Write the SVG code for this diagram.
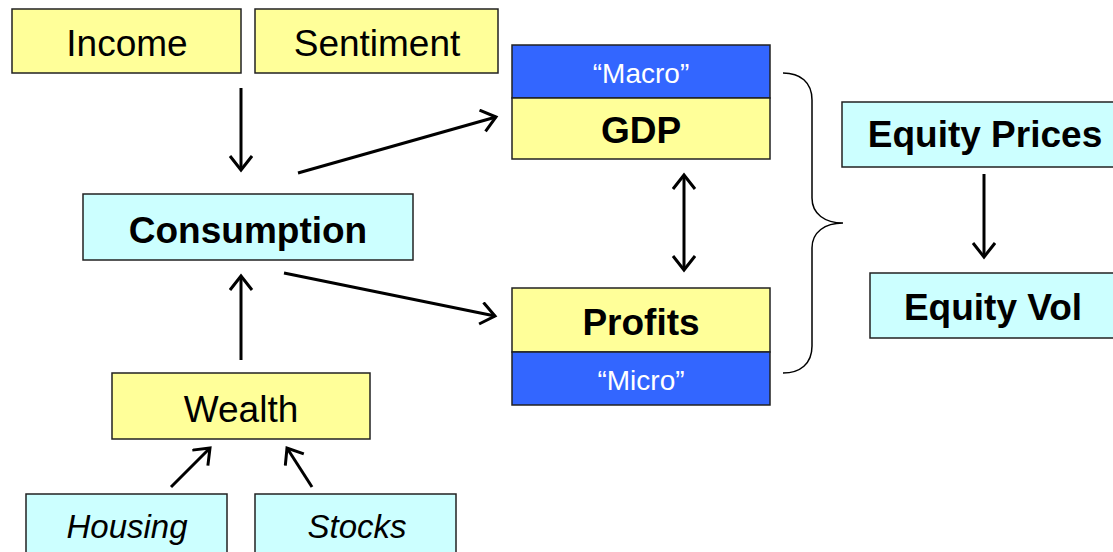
<svg xmlns="http://www.w3.org/2000/svg" width="1113" height="552" viewBox="0 0 1113 552">
<style>
.box{stroke:#222;stroke-width:1.5}
.y{fill:#FFFF99}
.c{fill:#CCFFFF}
.b{fill:#3366FF}
text{font-family:"Liberation Sans",Arial,sans-serif;text-anchor:middle;fill:#000}
.r{font-size:37px}
.bd{font-size:37px;font-weight:bold}
.it{font-size:33px;font-style:italic}
.w{font-size:28px;fill:#fff}
.ln{stroke:#000;stroke-width:3;fill:none}
</style>
<defs>
<marker id="ah" markerUnits="userSpaceOnUse" markerWidth="30" markerHeight="30" refX="16" refY="12" orient="auto-start-reverse" viewBox="0 0 30 30">
<path d="M2,1 L16,12 L2,23" fill="none" stroke="#000" stroke-width="3"/>
</marker>
</defs>
<rect width="1113" height="552" fill="#fff"/>
<g id="income"><rect class="box y" x="12" y="9" width="229" height="64"/><text class="r" x="127" y="56">Income</text></g>
<g id="sentiment"><rect class="box y" x="255" y="9" width="243" height="64"/><text class="r" x="377" y="56">Sentiment</text></g>
<g id="gdp"><rect class="box b" x="512" y="45" width="258" height="53"/><text class="w" x="641" y="83">“Macro”</text><rect class="box y" x="512" y="98" width="258" height="61"/><text class="bd" x="641" y="143">GDP</text></g>
<g id="profits"><rect class="box y" x="512" y="288" width="258" height="64"/><text class="bd" x="641" y="335">Profits</text><rect class="box b" x="512" y="352" width="258" height="53"/><text class="w" x="641" y="390">“Micro”</text></g>
<g id="consumption"><rect class="box c" x="83" y="194" width="330" height="66"/><text class="bd" x="248" y="243">Consumption</text></g>
<g id="wealth"><rect class="box y" x="112" y="373" width="258" height="66"/><text class="r" x="241" y="422">Wealth</text></g>
<g id="housing"><rect class="box c" x="26" y="494" width="201" height="70"/><text class="it" x="127" y="538">Housing</text></g>
<g id="stocks"><rect class="box c" x="255" y="494" width="201" height="70"/><text class="it" x="357" y="538">Stocks</text></g>
<g id="equity-prices"><rect class="box c" x="842" y="102" width="290" height="65"/><text class="bd" x="985" y="147">Equity Prices</text></g>
<g id="equity-vol"><rect class="box c" x="870" y="273" width="260" height="65"/><text class="bd" x="993" y="320">Equity Vol</text></g>
<g id="connectors">
<line class="ln" x1="241" y1="88" x2="241" y2="170" marker-end="url(#ah)"/>
<line class="ln" x1="298" y1="173" x2="496" y2="117" marker-end="url(#ah)"/>
<line class="ln" x1="284" y1="273" x2="495" y2="316" marker-end="url(#ah)"/>
<line class="ln" x1="241" y1="360" x2="241" y2="276" marker-end="url(#ah)"/>
<line class="ln" x1="684" y1="175" x2="684" y2="270" marker-start="url(#ah)" marker-end="url(#ah)"/>
<line class="ln" x1="171" y1="487" x2="210" y2="448" marker-end="url(#ah)"/>
<line class="ln" x1="312" y1="487" x2="287" y2="448" marker-end="url(#ah)"/>
<line class="ln" x1="984" y1="174" x2="984" y2="257" marker-end="url(#ah)"/>
<path d="M783,73 C800,73 812,82 812,100 L812,198 C812,214 825,223 843,223 C825,223 812,232 812,248 L812,346 C812,364 800,373 783,373" fill="none" stroke="#000" stroke-width="1.5"/>
</g>
</svg>
